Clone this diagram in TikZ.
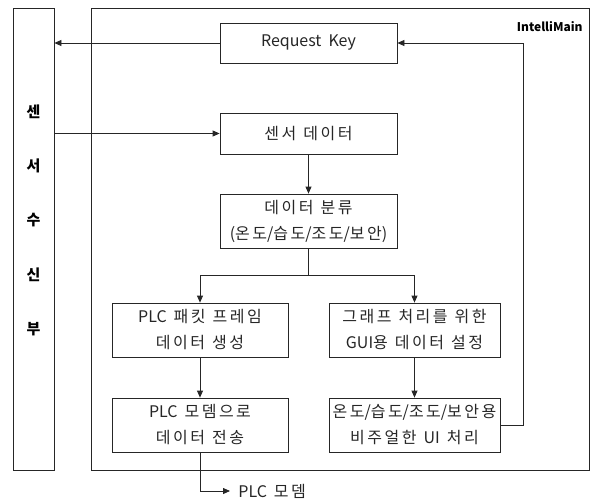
\documentclass[tikz,border=0pt]{standalone}
\usepackage{fontspec}
\newfontfamily\kr{Noto Sans CJK KR}
\newfontfamily\krn{Noto Sans CJK KR}
\usetikzlibrary{arrows.meta}
\XeTeXinterchartokenstate=1
\newXeTeXintercharclass\hangulclass
\newcount\hgc
\hgc="AC00
\loop\ifnum\hgc<"D7A4 \XeTeXcharclass\hgc=\hangulclass \advance\hgc by 1 \repeat
\XeTeXinterchartoks\hangulclass\hangulclass={\kern2.5pt\relax}
\newcommand\boxfont{\kr\fontsize{16}{26}\selectfont\spaceskip 7pt\relax}
\begin{document}
\begin{tikzpicture}[x=1pt,y=-1pt,
  line width=0.8pt, draw=black!85,
  txt/.style={font=\boxfont, text=black!85},
  box/.style={draw, txt, minimum width=177pt, inner sep=0pt, align=center},
  arr/.style={-{Triangle[length=7pt,width=6pt]}},
  vchar/.style={font=\krn\bfseries\fontsize{15}{17}\selectfont}]
\useasboundingbox (0,0) rectangle (592,499);
% frames
\node[draw, minimum width=41pt, minimum height=462pt, inner sep=0pt] (sense) at (33.5,239) {};
\node[draw, minimum width=498pt, minimum height=462pt, inner sep=0pt] (main) at (340,239) {};
\node[font=\krn\bfseries\fontsize{12}{15}\selectfont, anchor=east, inner sep=0pt] (title) at (583,27) {IntelliMain};
% vertical label
\node[vchar] (v1) at (33.5,112) {센};
\node[vchar] (v2) at (33.5,166) {서};
\node[vchar] (v3) at (33.5,220) {수};
\node[vchar] (v4) at (33.5,275) {신};
\node[vchar] (v5) at (33.5,329) {부};
% boxes
\node[box, minimum height=40pt] (req) at (308.5,43) {Request Key};
\node[box, minimum height=41pt] (sd) at (308.5,133.5) {센서 데이터};
\node[box, minimum height=54pt] (cls) at (308.5,221) {데이터 분류\\(온도/습도/조도/보안)};
\node[box, minimum width=176pt, minimum height=54pt] (plc1) at (200,330) {PLC 패킷 프레임\\데이터 생성};
\node[box, minimum width=176pt, minimum height=54pt] (plc2) at (200,425) {PLC 모뎀으로\\데이터 전송};
\node[box, minimum width=171pt, minimum height=54pt] (gui) at (414.5,330) {그래프 처리를 위한\\GUI용 데이터 설정};
\node[box, minimum width=171pt, minimum height=54pt] (vis) at (414.5,425) {온도/습도/조도/보안용\\비주얼한 UI 처리};
\node[txt, anchor=west, inner sep=0pt, xshift=8pt] (modem) at (230,491) {PLC 모뎀};
\coordinate (modemtip) at (230,491);
% connectors
\draw[arr] (req.west) -- (req.west -| sense.east);
\draw[arr] (sense.east |- sd.west) -- (sd.west);
\draw[arr] (sd.south) -- (cls.north);
\draw (cls.south) -- ++(0,27) coordinate (split);
\draw[arr] (split) -| (plc1.north);
\draw[arr] (split) -| (gui.north);
\draw[arr] (plc1.south) -- (plc2.north);
\draw[arr] (gui.south) -- (vis.north);
\draw[arr] (vis.east) -- ++(22.5,0) |- (req.east);
\draw[arr] (plc2.south) |- (modemtip);
\end{tikzpicture}
\end{document}
